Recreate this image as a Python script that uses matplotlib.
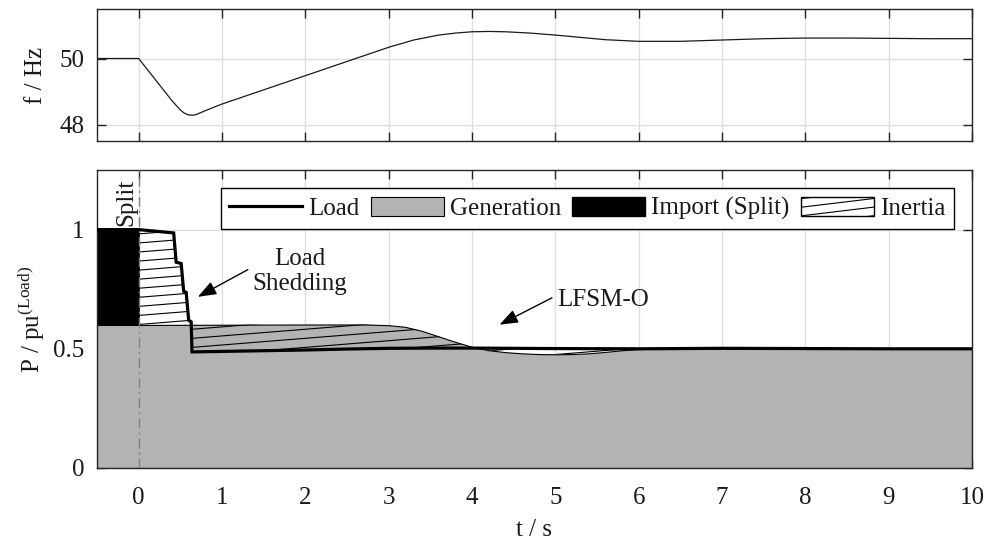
import numpy as np
import matplotlib
matplotlib.use("Agg")
import matplotlib.pyplot as plt
from matplotlib.collections import LineCollection
from matplotlib.lines import Line2D
from matplotlib.patches import Patch, Rectangle
from matplotlib.legend_handler import HandlerBase

plt.rcParams["font.family"] = ["Liberation Serif", "DejaVu Serif"]
plt.rcParams["mathtext.fontset"] = "custom"
plt.rcParams["mathtext.rm"] = "Liberation Serif"
plt.rcParams["mathtext.it"] = "Liberation Serif:italic"

# ---- system frequency after the split ----
t_freq = [-0.5, 0.0, 0.1, 0.2, 0.3, 0.4, 0.5, 0.55, 0.6, 0.65, 0.7, 0.8, 0.9,
          1.0, 1.5, 2.0, 2.5, 3.0, 3.3, 3.6, 3.8, 4.0, 4.2, 4.4, 4.7, 5.0,
          5.3, 5.6, 6.0, 6.5, 7.0, 7.5, 8.0, 8.5, 9.0, 9.5, 10.0]
f_freq = [50.0, 50.0, 49.68, 49.36, 49.04, 48.72, 48.44, 48.34, 48.29, 48.28,
          48.31, 48.42, 48.52, 48.62, 49.05, 49.48, 49.91, 50.34, 50.56, 50.71,
          50.77, 50.81, 50.82, 50.81, 50.77, 50.71, 50.64, 50.57, 50.52, 50.52,
          50.56, 50.60, 50.62, 50.62, 50.61, 50.60, 50.60]

# ---- load (with shedding steps) ----
t_load = [-0.5, 0.0, 0.42, 0.45, 0.51, 0.54, 0.57, 0.60, 0.63, 0.64, 1.0,
          1.5, 2.0, 2.5, 3.0, 3.5, 4.0, 5.0, 6.0, 7.0, 8.0, 9.0, 10.0]
p_load = [1.0, 1.0, 0.986, 0.863, 0.858, 0.741, 0.737, 0.620, 0.613, 0.487,
          0.489, 0.492, 0.495, 0.499, 0.502, 0.503, 0.503, 0.501, 0.500,
          0.502, 0.501, 0.500, 0.500]

# ---- generation ----
t_gen = [-0.5, 0.0, 1.0, 2.0, 2.7, 3.0, 3.2, 3.4, 3.6, 3.8, 4.0, 4.2, 4.4,
         4.6, 4.8, 5.0, 5.2, 5.4, 5.6, 5.8, 6.0, 6.5, 7.0, 8.0, 9.0, 10.0]
p_gen = [0.6, 0.6, 0.601, 0.602, 0.602, 0.599, 0.592, 0.575, 0.552, 0.529,
         0.508, 0.494, 0.486, 0.481, 0.478, 0.477, 0.478, 0.481, 0.487, 0.494,
         0.499, 0.502, 0.503, 0.501, 0.500, 0.500]

split_time = 0.0
time_ticks = list(range(0, 11))
freq_ticks = [48, 50]
power_ticks = [0, 0.5, 1]
power_ticklabels = ["0", "0.5", "1"]
legend_labels = ["Load", "Generation", "Import (Split)", "Inertia"]

GEN_GREY = "#b3b3b3"
AX_COLOR = "#262626"
GRID_COLOR = "#dedede"
TXT = "#1a1a1a"
FS = 18

W, H = 985, 543
fig = plt.figure(figsize=(W / 100, H / 100), dpi=100)
ax_f = fig.add_axes([97 / W, 1 - 141 / H, 875 / W, 132 / H])
ax_p = fig.add_axes([97 / W, 1 - 468 / H, 875 / W, 298 / H])


def style_axes(ax):
    ax.set_xlim(-0.5, 10)
    ax.set_xticks(time_ticks)
    ax.grid(True, color=GRID_COLOR, lw=1.0)
    ax.set_axisbelow(True)
    ax.tick_params(direction="in", length=6.5, width=1.0, top=True, right=True,
                   color=AX_COLOR, labelcolor=TXT, labelsize=FS)
    ax.tick_params(axis="y", pad=9)
    ax.tick_params(axis="x", pad=14)
    for s in ax.spines.values():
        s.set_color(AX_COLOR)
        s.set_linewidth(1.0)


# ---- frequency panel ----
style_axes(ax_f)
ax_f.plot(t_freq, f_freq, color="#1a1a1a", lw=0.9)
ax_f.set_ylim(47.5, 51.5)
ax_f.set_yticks(freq_ticks)
ax_f.tick_params(labelbottom=False)
ax_f.set_ylabel("f / Hz", fontsize=FS, color=TXT)
ax_f.yaxis.set_label_coords(-0.057, 0.5)

# ---- power panel ----
style_axes(ax_p)
ax_p.set_ylim(0, 1.25)
ax_p.set_yticks(power_ticks)
ax_p.set_yticklabels(power_ticklabels)

tl, pl = np.asarray(t_load), np.asarray(p_load)
tg, pg = np.asarray(t_gen), np.asarray(p_gen)

# generation area
ax_p.fill_between(tg, 0, pg, facecolor=GEN_GREY, edgecolor="black",
                  lw=0.8, zorder=1)

# import before the split: between generation and load
pre_l, pre_g = tl <= split_time, tg <= split_time
ax_p.fill(np.r_[tl[pre_l], tg[pre_g][::-1]], np.r_[pl[pre_l], pg[pre_g][::-1]],
          facecolor="black", edgecolor="black", lw=0.5, zorder=1.5)

# inertia after the split: region between load and generation, hatched
post_l, post_g = tl >= split_time, tg >= split_time
inertia = ax_p.fill(np.r_[tl[post_l], tg[post_g][::-1]],
                    np.r_[pl[post_l], pg[post_g][::-1]],
                    facecolor="none", edgecolor="none", zorder=2)[0]
slope, gap = 0.028, 0.038
segs = [[(-0.5, c - 0.5 * slope), (10.0, c + 10.0 * slope)]
        for c in np.arange(-0.5, 1.4, gap)]
hatch = LineCollection(segs, colors="black", linewidths=0.8, zorder=2)
hatch.set_clip_path(inertia)
ax_p.add_collection(hatch)

# split marker
ax_p.axvline(split_time, color="#808080", lw=1.0, ls=(0, (7, 3, 1.5, 3)),
             zorder=3)
ax_p.text(split_time - 0.145, 1.015, "Split", rotation=90, ha="center",
          va="bottom", fontsize=FS, color=TXT, zorder=5)

# load
ax_p.plot(tl, pl, color="black", lw=2.3, solid_joinstyle="miter", zorder=4)

# annotations
arrow = dict(arrowstyle="-|>,head_length=0.75,head_width=0.28",
             mutation_scale=15, color="black", lw=1.0,
             shrinkA=0, shrinkB=0)
ax_p.annotate("", xy=(0.71, 0.718), xytext=(1.31, 0.832), arrowprops=arrow,
              zorder=6)
ax_p.text(1.93, 0.824, "Load\nShedding", ha="center", va="center",
          fontsize=FS, color=TXT, linespacing=1.15)
ax_p.annotate("", xy=(4.33, 0.601), xytext=(4.96, 0.714), arrowprops=arrow,
              zorder=6)
ax_p.text(5.02, 0.706, "LFSM-O", ha="left", va="center", fontsize=FS,
          color=TXT)

ax_p.set_xlabel("t / s", fontsize=FS, color=TXT, labelpad=7)
ax_p.set_ylabel(r"P / pu$^{\mathrm{(Load)}}$", fontsize=FS, color=TXT)
ax_p.yaxis.set_label_coords(-0.058, 0.5)


class HatchBoxHandler(HandlerBase):
    def create_artists(self, legend, orig_handle, xdescent, ydescent,
                       width, height, fontsize, trans):
        x0, y0 = -xdescent, -ydescent
        box = Rectangle((x0, y0), width, height, facecolor="white",
                        edgecolor="black", lw=1.0, transform=trans)
        arts = [box]
        s = 0.12
        step = height * 0.45
        for k in range(-3, 4):
            yb = y0 + k * step
            ln = Line2D([x0, x0 + width], [yb, yb + s * width], color="black",
                        lw=0.8, transform=trans)
            ln.set_clip_path(box)
            arts.append(ln)
        return arts


h_load = Line2D([], [], color="black", lw=2.3)
h_gen = Patch(facecolor=GEN_GREY, edgecolor="black", lw=0.8)
h_imp = Patch(facecolor="black", edgecolor="black")
h_inertia = Patch(facecolor="white", edgecolor="black")
leg = ax_p.legend([h_load, h_gen, h_imp, h_inertia], legend_labels,
                  handler_map={h_inertia: HatchBoxHandler()},
                  loc="upper right", bbox_to_anchor=((954 - 97) / 875, (468 - 188) / 298),
                  borderaxespad=0, ncol=4, fontsize=FS, frameon=True,
                  fancybox=False, framealpha=1, edgecolor="black",
                  handlelength=2.92, handleheight=0.8, handletextpad=0.24,
                  columnspacing=0.45, borderpad=0.35)
leg.get_frame().set_linewidth(1.0)
leg.set_zorder(7)
for txt in leg.get_texts():
    txt.set_color(TXT)

fig.savefig("out.png", dpi=100)
